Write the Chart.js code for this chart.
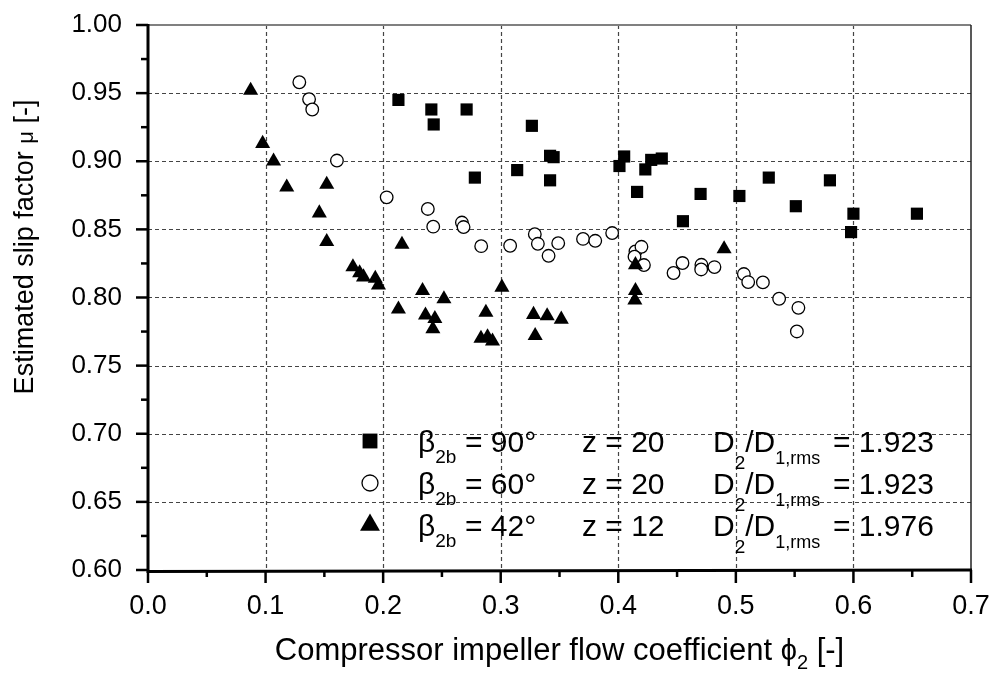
<!DOCTYPE html>
<html>
<head>
<meta charset="utf-8">
<script src="https://cdn.jsdelivr.net/npm/chart.js@4/dist/chart.umd.min.js"></script>
<style>
html,body{margin:0;padding:0;background:#fff;}
#c{display:block;}
</style>
</head>
<body>
<canvas id="c" width="994" height="673"></canvas>
<script>
// ---------- data ----------
const xTickValues = [0.0, 0.1, 0.2, 0.3, 0.4, 0.5, 0.6, 0.7];
const yTickValues = [0.60, 0.65, 0.70, 0.75, 0.80, 0.85, 0.90, 0.95, 1.00];

// beta_2b = 90 deg (filled squares)
const phi90 = [0.213,0.241,0.271,0.243,0.3265,0.342,0.345,0.314,0.278,0.342,0.405,0.401,0.428,0.437,0.423,0.416,0.455,0.470,0.528,0.503,0.580,0.551,0.600,0.654,0.598];
const mu90  = [0.945,0.938,0.938,0.927,0.926,0.904,0.903,0.8935,0.888,0.886,0.9035,0.8965,0.901,0.902,0.894,0.8775,0.856,0.876,0.888,0.8745,0.886,0.867,0.8615,0.8615,0.848];

// beta_2b = 60 deg (open circles)
const phi60 = [0.1287,0.137,0.1397,0.1607,0.203,0.238,0.2426,0.267,0.2684,0.2834,0.308,0.329,0.3316,0.3489,0.3407,0.370,0.3804,0.3948,0.4146,0.4197,0.4138,0.4218,0.447,0.4546,0.4707,0.4705,0.4818,0.5068,0.5105,0.523,0.5368,0.5532,0.5519];
const mu60  = [0.958,0.9455,0.938,0.9005,0.8735,0.865,0.852,0.855,0.8517,0.8377,0.838,0.8465,0.8394,0.8399,0.8306,0.843,0.8416,0.8473,0.8338,0.8372,0.830,0.8238,0.818,0.8253,0.824,0.8206,0.8223,0.8172,0.8113,0.8111,0.7991,0.7924,0.7751];

// beta_2b = 42 deg (filled triangles)
const phi42 = [0.0873,0.0975,0.1068,0.118,0.152,0.1457,0.152,0.216,0.1743,0.180,0.1833,0.1933,0.196,0.2335,0.213,0.236,0.244,0.2423,0.2517,0.2874,0.301,0.2832,0.2888,0.293,0.3279,0.3395,0.3515,0.3293,0.4146,0.4146,0.4141,0.490];
const mu42  = [0.952,0.913,0.900,0.881,0.883,0.862,0.841,0.839,0.8225,0.818,0.815,0.814,0.809,0.805,0.7915,0.787,0.7845,0.777,0.799,0.789,0.8075,0.770,0.771,0.768,0.7875,0.7865,0.784,0.772,0.824,0.805,0.798,0.8357];

const legendBeta  = ['90°', '60°', '42°'];
const legendZ     = ['20', '20', '12'];
const legendRatio = ['1.923', '1.923', '1.976'];

const xTitleMain = 'Compressor impeller flow coefficient ';
const yTitleMain = 'Estimated slip factor ';

// ---------- helpers ----------
const FAM = '"Liberation Sans", Arial, Helvetica, sans-serif';
const toPts = (xs, ys) => xs.map((v, i) => ({x: v, y: ys[i]}));

function drawParts(ctx, parts, x, y) {
  let cx = x;
  for (const p of parts) {
    ctx.font = p.size + 'px ' + FAM;
    ctx.fillText(p.t, cx, y + (p.dy || 0));
    cx += ctx.measureText(p.t).width;
  }
  return cx;
}
function partsWidth(ctx, parts) {
  let w = 0;
  for (const p of parts) { ctx.font = p.size + 'px ' + FAM; w += ctx.measureText(p.t).width; }
  return w;
}

const decor = {
  id: 'decor',
  beforeDatasetsDraw(chart) {
    const {ctx, chartArea: a, scales: {x, y}} = chart;
    ctx.save();
    ctx.strokeStyle = '#444';
    ctx.lineWidth = 1.2;
    ctx.setLineDash([4, 3]);
    xTickValues.slice(1, -1).forEach(v => {
      const px = Math.round(x.getPixelForValue(v)) + 0.5;
      ctx.beginPath(); ctx.moveTo(px, a.top); ctx.lineTo(px, a.bottom); ctx.stroke();
    });
    yTickValues.slice(1, -1).forEach(v => {
      const py = Math.round(y.getPixelForValue(v)) + 0.5;
      ctx.beginPath(); ctx.moveTo(a.left, py); ctx.lineTo(a.right, py); ctx.stroke();
    });
    ctx.restore();
  },
  afterDraw(chart) {
    const {ctx, chartArea: a, scales: {x, y}} = chart;
    ctx.save();
    ctx.setLineDash([]);
    // top and right frame
    ctx.strokeStyle = '#808080'; ctx.lineWidth = 2;
    ctx.beginPath(); ctx.moveTo(a.left, a.top); ctx.lineTo(a.right, a.top); ctx.stroke();
    ctx.strokeStyle = '#222'; ctx.lineWidth = 1.5;
    ctx.beginPath(); ctx.moveTo(a.right, a.top); ctx.lineTo(a.right, a.bottom); ctx.stroke();
    // main axes
    ctx.strokeStyle = '#000'; ctx.lineWidth = 3;
    ctx.beginPath(); ctx.moveTo(a.left, a.top - 1); ctx.lineTo(a.left, a.bottom + 1.5); ctx.lineTo(a.right + 1, a.bottom); ctx.stroke();
    // ticks
    ctx.lineWidth = 2.5;
    xTickValues.forEach((v, i) => {
      const px = x.getPixelForValue(v);
      ctx.beginPath(); ctx.moveTo(px, a.bottom); ctx.lineTo(px, a.bottom + 13); ctx.stroke();
      if (i < xTickValues.length - 1) {
        const m = x.getPixelForValue((v + xTickValues[i + 1]) / 2);
        ctx.beginPath(); ctx.moveTo(m, a.bottom); ctx.lineTo(m, a.bottom + 7); ctx.stroke();
      }
    });
    yTickValues.forEach((v, i) => {
      const py = y.getPixelForValue(v);
      ctx.beginPath(); ctx.moveTo(a.left, py); ctx.lineTo(a.left - 12, py); ctx.stroke();
      if (i < yTickValues.length - 1) {
        const m = y.getPixelForValue((v + yTickValues[i + 1]) / 2);
        ctx.beginPath(); ctx.moveTo(a.left, m); ctx.lineTo(a.left - 7, m); ctx.stroke();
      }
    });

    ctx.fillStyle = '#000';
    ctx.textAlign = 'left';
    ctx.textBaseline = 'alphabetic';

    // x axis title
    const xParts = [
      {t: xTitleMain, size: 31},
      {t: 'ϕ', size: 29},
      {t: '2', size: 20, dy: 9},
      {t: ' [-]', size: 31}
    ];
    const xw = partsWidth(ctx, xParts);
    drawParts(ctx, xParts, (a.left + a.right) / 2 - xw / 2, 660);

    // y axis title (rotated)
    const yParts = [
      {t: yTitleMain, size: 27},
      {t: 'μ', size: 22},
      {t: ' [-]', size: 27}
    ];
    const yw = partsWidth(ctx, yParts);
    ctx.save();
    ctx.translate(33, 247);
    ctx.rotate(-Math.PI / 2);
    drawParts(ctx, yParts, -yw / 2, 0);
    ctx.restore();

    // legend
    const styles = [
      {pointStyle: 'rect', radius: 10.5, fill: '#000', border: '#000', bw: 0},
      {pointStyle: 'circle', radius: 8, fill: '#fff', border: '#000', bw: 1.3},
      {pointStyle: 'triangle', radius: 11.5, fill: '#000', border: '#000', bw: 0}
    ];
    const rowY = [441, 483, 525];
    for (let i = 0; i < 3; i++) {
      const cy = rowY[i];
      const base = cy + 11;
      const s = styles[i];
      ctx.fillStyle = s.fill; ctx.strokeStyle = s.border; ctx.lineWidth = s.bw;
      Chart.helpers.drawPoint(ctx, {pointStyle: s.pointStyle, radius: s.radius, borderWidth: s.bw}, 370, cy);
      ctx.fillStyle = '#000';
      drawParts(ctx, [{t: 'β', size: 30}, {t: '2b', size: 19, dy: 11}], 418, base);
      drawParts(ctx, [{t: '= ' + legendBeta[i], size: 30}], 465, base);
      drawParts(ctx, [{t: 'z = ' + legendZ[i], size: 30}], 582, base);
      drawParts(ctx, [
        {t: 'D', size: 30}, {t: '2', size: 19, dy: 17}, {t: '/D', size: 30}, {t: '1,rms', size: 18, dy: 12}
      ], 713, base);
      drawParts(ctx, [{t: '= ' + legendRatio[i], size: 30}], 833, base);
    }
    ctx.restore();
  }
};

function zeroPad(s) { s.paddingTop = 0; s.paddingBottom = 0; s.paddingLeft = 0; s.paddingRight = 0; }

new Chart(document.getElementById('c'), {
  type: 'scatter',
  data: {
    datasets: [
      {label: 'β2b = 90°', data: toPts(phi90, mu90), pointStyle: 'rect', pointRadius: 8.6,
       backgroundColor: '#000', borderColor: '#000', borderWidth: 0, order: 2},
      {label: 'β2b = 60°', data: toPts(phi60, mu60), pointStyle: 'circle', pointRadius: 6.3,
       backgroundColor: '#fff', borderColor: '#000', borderWidth: 1.3, order: 1},
      {label: 'β2b = 42°', data: toPts(phi42, mu42), pointStyle: 'triangle', pointRadius: 8.7,
       backgroundColor: '#000', borderColor: '#000', borderWidth: 0, order: 0}
    ]
  },
  options: {
    responsive: false,
    animation: false,
    devicePixelRatio: 1,
    layout: {padding: {top: 25, right: 23, left: 0, bottom: 0}},
    plugins: {legend: {display: false}, tooltip: {enabled: false}},
    elements: {point: {hoverRadius: 0}},
    scales: {
      x: {
        type: 'linear', min: xTickValues[0], max: xTickValues[xTickValues.length - 1],
        afterBuildTicks: s => { s.ticks = xTickValues.map(v => ({value: v})); },
        ticks: {callback: v => v.toFixed(1), color: '#000', font: {family: FAM, size: 27}, padding: 20, maxRotation: 0, autoSkip: false},
        grid: {display: false, drawTicks: false},
        border: {display: false},
        afterFit: s => { s.height = 103; zeroPad(s); }
      },
      y: {
        type: 'linear', min: yTickValues[0], max: yTickValues[yTickValues.length - 1],
        afterBuildTicks: s => { s.ticks = yTickValues.map(v => ({value: v})); },
        ticks: {callback: v => v.toFixed(2), color: '#000', font: {family: FAM, size: 26}, padding: 26, autoSkip: false},
        grid: {display: false, drawTicks: false},
        border: {display: false},
        afterFit: s => { s.width = 148; zeroPad(s); }
      }
    }
  },
  plugins: [decor]
});
</script>
</body>
</html>
